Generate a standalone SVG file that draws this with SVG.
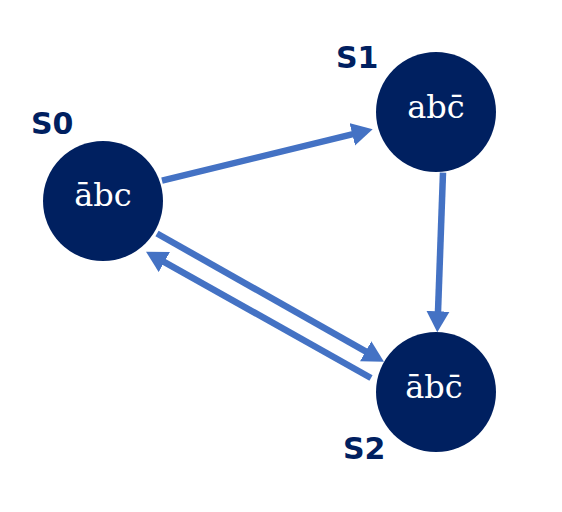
<svg xmlns="http://www.w3.org/2000/svg" width="562" height="512" viewBox="0 0 562 512">
  <style>
    .node { fill: #002060; }
    .inner { font-family: "DejaVu Serif", "Liberation Serif", serif; font-size: 32px; fill: #ffffff; text-anchor: middle; }
    .label { font-family: "DejaVu Sans", "Liberation Sans", sans-serif; font-weight: bold; font-size: 30px; fill: #002060; }
    .edge { stroke: #4472C4; stroke-width: 6.5; fill: none; marker-end: url(#arrow); }
  </style>
  <defs>
    <marker id="arrow" markerUnits="userSpaceOnUse" markerWidth="24" markerHeight="24" refX="6" refY="12" orient="auto">
      <path d="M0,0.5 L21,12 L0,23.5 z" fill="#4472C4"/>
    </marker>
  </defs>
  <rect width="562" height="512" fill="#ffffff"/>
  <g id="connectors">
    <line class="edge" x1="162" y1="180.7" x2="358.1" y2="132.8"/>
    <line class="edge" x1="443" y1="172.7" x2="437.8" y2="317.3"/>
    <line class="edge" x1="157" y1="233.5" x2="370.9" y2="354.3"/>
    <line class="edge" x1="371" y1="378" x2="159.1" y2="259.1"/>
  </g>
  <g id="S0">
    <circle class="node" cx="103" cy="201" r="60"/>
    <text class="inner" x="103" y="206">ābc</text>
    <text class="label" x="31" y="134.3">S0</text>
  </g>
  <g id="S1">
    <circle class="node" cx="436" cy="112" r="60"/>
    <text class="inner" x="436" y="117.7">abc̄</text>
    <text class="label" x="336" y="68.3">S1</text>
  </g>
  <g id="S2">
    <circle class="node" cx="436" cy="392" r="60"/>
    <text class="inner" x="434" y="397.7">ābc̄</text>
    <text class="label" x="343" y="459.3">S2</text>
  </g>
</svg>
